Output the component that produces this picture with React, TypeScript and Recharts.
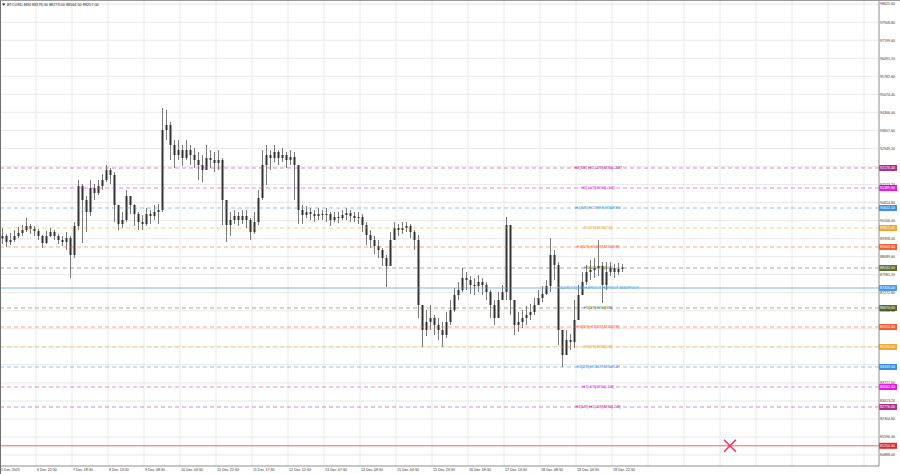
import React from "react";
import {
  ComposedChart,
  Bar,
  XAxis,
  YAxis,
  CartesianGrid,
  ReferenceLine,
  ReferenceDot,
} from "recharts";

// BTCUSD M30 (one entry = 2 hours)
const firstOpen = 89400;

const closes = [
  89501, 89265, 89344, 89501, 89619, 89737, 89894, 89776, 89697, 89501,
  89226, 89501, 89658, 89501, 89344, 89265, 89422, 88754, 89894, 91468,
  90917, 90445, 91389, 91192, 91468, 91704, 92097, 91900, 90720, 89973,
  90130, 91075, 90720, 90366, 90051, 89973, 90366, 90287, 90445, 90523,
  93670, 93867, 93080, 92687, 92883, 92569, 92883, 92687, 92490, 92294,
  92097, 92569, 92490, 92372, 92490, 90917, 89933, 90130, 90287, 90130,
  90287, 90130, 89658, 90051, 90996, 92294, 92687, 92569, 92805, 92569,
  92687, 92490, 92608, 92294, 90523, 90327, 90445, 90366, 90287, 90366,
  90327, 90366, 90130, 90248, 90209, 90327, 90405, 90287, 90209, 90248,
  89933, 89540, 89344, 89108, 88951, 88636, 88321, 89344, 89815, 89737,
  89815, 89894, 89658, 89344, 86787, 85804, 86118, 86276, 86001, 85804,
  85607, 86118, 86591, 87180, 87377, 87849, 87771, 87574, 87534, 87692,
  87574, 87298, 86787, 86276, 86984, 87298, 89933, 86984, 86001, 86118,
  86276, 86394, 86512, 86787, 87062, 87220, 87534, 88754, 88361, 85804,
  84821, 85411, 85332, 86197, 87180, 87692, 88085, 88164, 88242, 88321,
  87574, 88085, 88242, 88085, 88203, 88257,
];

const highs = [
  89815, 89579, 89619, 89737, 89855, 89933, 90209, 89973, 89894, 89776,
  89540, 89697, 89815, 89737, 89579, 89501, 89658, 89501, 90051, 91704,
  91546, 91075, 91704, 91546, 91704, 91940, 92294, 92176, 92018, 90523,
  90445, 91310, 91075, 90759, 90445, 90327, 90602, 90523, 90720, 90759,
  94535, 94457, 93985, 93277, 93277, 93080, 93277, 93080, 92962, 92805,
  92687, 93080, 92883, 92805, 92883, 92569, 90720, 90445, 90523, 90445,
  90523, 90523, 90209, 90445, 91310, 92883, 93080, 92883, 93080, 92883,
  92962, 92805, 92883, 92805, 92294, 90720, 90681, 90602, 90523, 90602,
  90523, 90602, 90445, 90445, 90445, 90523, 90602, 90523, 90445, 90445,
  90366, 90051, 89737, 89501, 89344, 89029, 88754, 89658, 90051, 89973,
  90051, 90051, 89973, 89737, 89540, 86591, 86591, 86787, 86394, 86276,
  86118, 86512, 86984, 87456, 87692, 88242, 88085, 87928, 87849, 87967,
  87849, 87692, 87377, 86984, 87298, 87574, 90248, 89933, 86787, 86512,
  86591, 86748, 86827, 87062, 87377, 87534, 87771, 89422, 88951, 88479,
  85804, 85804, 85647, 86984, 87574, 88085, 88361, 88557, 88636, 89344,
  88479, 88479, 88479, 88400, 88440, 88400,
];

const lows = [
  89186, 89069, 89147, 89265, 89422, 89501, 89658, 89579, 89501, 89344,
  89029, 89186, 89461, 89344, 89186, 89108, 88951, 87849, 88636, 89737,
  89226, 89658, 90287, 90917, 91114, 91310, 91625, 91546, 90051, 89737,
  89815, 90051, 90366, 89894, 89737, 89737, 89894, 89973, 90130, 89973,
  90445, 93277, 92490, 92176, 92490, 92254, 92490, 92294, 92176, 91704,
  91625, 92176, 92176, 92018, 92097, 89933, 89265, 89501, 89973, 89894,
  89973, 89815, 89344, 89579, 89933, 90917, 91507, 92097, 92412, 92294,
  92412, 92176, 92294, 90917, 89973, 89973, 90209, 90130, 90051, 90130,
  90130, 90051, 89894, 90051, 90012, 90130, 90130, 90051, 90051, 89973,
  89658, 89147, 89029, 88793, 88636, 88321, 87495, 88479, 89344, 89501,
  89579, 89658, 89422, 88951, 86276, 85136, 85568, 85804, 85607, 85411,
  85136, 85489, 86001, 86512, 86984, 87298, 87377, 87220, 87180, 87298,
  87180, 86984, 86276, 86001, 86276, 86984, 86984, 86394, 85607, 85725,
  85883, 86001, 86197, 86394, 86787, 86905, 87180, 87298, 87771, 85214,
  84349, 84939, 85018, 85096, 86394, 87180, 87574, 87771, 87849, 87928,
  86866, 87377, 87928, 87849, 87967, 88085,
];

const timeLabels = [
  "5 Dec 2025", "6 Dec 22:30", "7 Dec 18:30", "8 Dec 13:30", "9 Dec 08:30",
  "10 Dec 03:30", "10 Dec 22:30", "11 Dec 17:30", "12 Dec 12:30", "13 Dec 07:30",
  "14 Dec 09:30", "15 Dec 04:30", "15 Dec 23:30", "16 Dec 18:30", "17 Dec 13:30",
  "18 Dec 08:30", "19 Dec 03:30", "19 Dec 22:30",
];
const timeTicks = [0, 9, 18, 27, 36, 45, 54, 63, 72, 81, 90, 99, 108, 117, 126, 135, 144, 153];
const gridSlots = [
  0, 9, 18, 27, 36, 45, 54, 63, 72, 81, 90, 99, 108, 117, 126, 135, 144, 153,
  162, 171, 180, 189, 198, 207, 216,
];

const priceGrid = [
  98625.6, 97908.8, 97199.6, 96491.2, 95782.8, 95074.4, 94366.0, 93657.6, 92949.2,
  92240.8, 91523.2, 90814.8, 90106.4, 89398.0, 88689.6, 87981.2, 87272.8, 86564.4,
  85856.0, 85147.6, 84439.2, 83721.6, 83013.2, 82304.8, 81596.4, 80888.0,
];
// labels that are hidden behind the level boxes are left out
const priceTicks = [
  98625.6, 97908.8, 97199.6, 96491.2, 95782.8, 95074.4, 94366.0, 93657.6, 92949.2,
  91523.2, 90814.8, 90106.4, 89398.0, 88689.6, 87981.2, 87272.8, 86564.4,
  83721.6, 83013.2, 82304.8, 81596.4, 80888.0,
];

const levelPrices = [
  92176, 91389, 90602, 89815, 89069, 88242, 87456, 86670, 85922, 85136, 84349,
  83562, 82776, 81250,
];
const levelNames = [
  "H4[7/8] H1[+2/8] M30[+2/8]",
  "H1[+1/8] M30[+1/8]",
  "H4[6/8] H1TRES M30RES",
  "H1[7/8] M30[7/8]",
  "H4[5/8] H1[6/8] M30[6/8]",
  "H1[5/8] M30[5/8]",
  "H1[4/8] D1[3/8] H4PIVOT H1PIVOT M30PIVOT",
  "H1[3/8] M30[3/8]",
  "H4[3/8] H1[2/8] M30[2/8]",
  "H1[1/8] M30[1/8]",
  "H4[2/8] H1SUP M30SUP",
  "H1[-1/8] M30[-1/8]",
  "H4[1/8] H1[-2/8] M30[-2/8]",
  "",
];
const levelColors = [
  "#b0308a", "#e01ee0", "#3c8ee0", "#f0a830", "#f06030", "#5f6d2e", "#4a98e8",
  "#5f6d2e", "#f06030", "#f0a830", "#3c8ee0", "#e01ee0", "#b0308a", "#e02828",
];
const levelDashed = [
  true, true, true, true, true, true, false, true, true, true, true, true, true, false,
];

const markerSlot = 182.5;
const markerPrice = 81250;

const candles = closes.map((c, i) => {
  const o = i === 0 ? firstOpen : closes[i - 1];
  const h = Math.max(highs[i], o, c);
  const l = Math.min(lows[i], o, c);
  return { t: i + 0.5, o, c, h, l, range: [l, h] };
});

const FONT = "'Liberation Sans', Arial, sans-serif";

const Candle = (props: any) => {
  const { x, y, width, height, payload } = props;
  if (!payload) return null;
  const top = Math.min(y, y + height);
  const len = Math.abs(height);
  const k = payload.h - payload.l > 0 ? len / (payload.h - payload.l) : 0;
  const bodyTop = top + (payload.h - Math.max(payload.o, payload.c)) * k;
  const bodyH = Math.max(1, Math.abs(payload.o - payload.c) * k);
  const cx = Math.round(x + width / 2) + 0.5;
  return (
    <g>
      <line x1={cx} x2={cx} y1={top} y2={top + len} stroke="#7a7a7a" strokeWidth={1} />
      <rect x={cx - 1} y={bodyTop} width={2} height={bodyH} fill="#333" />
    </g>
  );
};

const TimeTick = (props: any) => {
  const { x, y, payload } = props;
  const idx = timeTicks.indexOf(payload.value);
  return (
    <text x={x + 1} y={y + 4.6} fontSize={3.7} fontFamily={FONT} fill="#333">
      {idx >= 0 ? timeLabels[idx] : ""}
    </text>
  );
};

const PriceTick = (props: any) => {
  const { x, y, payload } = props;
  return (
    <text x={x + 1} y={y} dy={1.3} fontSize={3.6} fontFamily={FONT} fill="#333">
      {Number(payload.value).toFixed(2)}
    </text>
  );
};

const levelLabel = (i: number) => (props: any) => {
  const vb = props.viewBox || {};
  const y = vb.y;
  const right = vb.x + vb.width;
  return (
    <g>
      {levelNames[i] && (
        <text
          x={vb.x + vb.width * 0.68}
          y={y}
          dy={1.4}
          textAnchor="middle"
          fontSize={3.9}
          fontFamily={FONT}
          fill={levelColors[i]}
        >
          {levelNames[i]}
        </text>
      )}
      <rect x={right} y={y - 3} width={18} height={6} fill={levelColors[i]} />
      <text x={right + 1} y={y} dy={1.3} fontSize={3.6} fontFamily={FONT} fill="#fff">
        {levelPrices[i].toFixed(2)}
      </text>
    </g>
  );
};

const Cross = (props: any) => {
  const { cx, cy } = props;
  return (
    <g stroke="#e23a5c" strokeWidth={1.6}>
      <line x1={cx - 6} y1={cy - 6} x2={cx + 6} y2={cy + 6} />
      <line x1={cx - 6} y1={cy + 6} x2={cx + 6} y2={cy - 6} />
    </g>
  );
};

export default function App() {
  return (
    <div
      style={{
        position: "fixed",
        left: 0,
        top: 0,
        width: 900,
        height: 474,
        background: "#fff",
        borderTop: "1px solid #9a9a9a",
        borderLeft: "1px solid #6e6e6e",
        boxSizing: "border-box",
      }}
    >
      <ComposedChart
        width={899}
        height={473}
        data={candles}
        margin={{ top: 0, right: 0, bottom: 0, left: 0 }}
      >
        <CartesianGrid
          stroke="#e8e8e8"
          horizontalValues={priceGrid}
          verticalValues={gridSlots}
        />
        <XAxis
          type="number"
          dataKey="t"
          domain={[0.25, 219.75]}
          ticks={timeTicks}
          interval={0}
          allowDataOverflow
          height={8}
          tickLine={false}
          tickSize={0}
          tickMargin={0}
          axisLine={{ stroke: "#8c8c8c" }}
          tick={<TimeTick />}
        />
        <YAxis
          type="number"
          orientation="right"
          domain={[80455.2, 98743.6]}
          ticks={priceTicks}
          interval={0}
          allowDataOverflow
          width={21}
          tickLine={false}
          tickSize={0}
          tickMargin={0}
          axisLine={{ stroke: "#8c8c8c" }}
          tick={<PriceTick />}
        />
        {levelPrices.map((p, i) => (
          <ReferenceLine
            key={i}
            y={p}
            stroke={levelColors[i]}
            strokeOpacity={levelDashed[i] ? 0.55 : 0.7}
            strokeDasharray={levelDashed[i] ? "4 3" : undefined}
            ifOverflow="visible"
            label={levelLabel(i)}
          />
        ))}
        <Bar dataKey="range" barSize={3} shape={<Candle />} isAnimationActive={false} />
        <ReferenceDot x={markerSlot} y={markerPrice} r={6} ifOverflow="visible" shape={<Cross />} />
      </ComposedChart>
      <svg
        width={200}
        height={10}
        style={{ position: "absolute", left: 0, top: 0 }}
      >
        <polygon points="1,2.5 4.5,2.5 2.75,5" fill="#333" />
        <text x={6} y={5.3} fontSize={3.8} fontFamily={FONT} fill="#222">
          BTCUSD,M30  88176.00 88273.00 88164.50 88257.00
        </text>
      </svg>
    </div>
  );
}
